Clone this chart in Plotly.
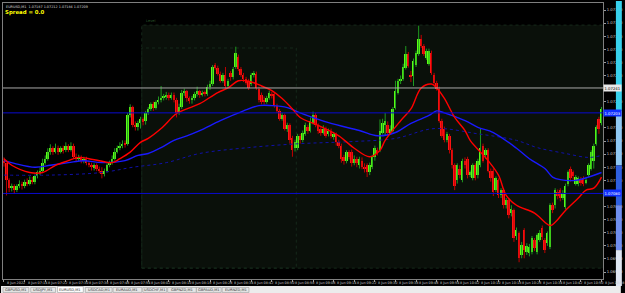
import plotly.graph_objects as go
import pandas as pd

symbol = "EURUSD,M1"
spread_text = "Spread = 0.0"
start_time = "2022-06-08 07:06"

open_ = [1.07130,1.07126,1.07100,1.07088,1.07091,1.07085,1.07091,1.07095,1.07091,1.07098,
 1.07095,1.07101,1.07097,1.07106,1.07112,1.07115,1.07127,1.07133,1.07143,1.07149,
 1.07144,1.07150,1.07144,1.07149,1.07146,1.07152,1.07147,1.07153,1.07136,1.07133,
 1.07135,1.07130,1.07133,1.07127,1.07124,1.07120,1.07123,1.07118,1.07115,1.07109,
 1.07115,1.07123,1.07127,1.07133,1.07144,1.07150,1.07153,1.07156,1.07156,1.07199,
 1.07212,1.07185,1.07181,1.07188,1.07193,1.07190,1.07203,1.07209,1.07216,1.07211,
 1.07219,1.07223,1.07226,1.07228,1.07231,1.07226,1.07231,1.07223,1.07203,1.07212,
 1.07234,1.07237,1.07225,1.07222,1.07226,1.07232,1.07237,1.07231,1.07234,1.07232,
 1.07243,1.07247,1.07276,1.07272,1.07263,1.07252,1.07261,1.07244,1.07264,1.07257,
 1.07273,1.07289,1.07270,1.07261,1.07255,1.07252,1.07247,1.07261,1.07263,1.07240,
 1.07231,1.07223,1.07220,1.07226,1.07232,1.07232,1.07214,1.07206,1.07194,1.07199,
 1.07179,1.07184,1.07165,1.07149,1.07150,1.07167,1.07162,1.07171,1.07182,1.07176,
 1.07188,1.07200,1.07184,1.07178,1.07173,1.07179,1.07170,1.07176,1.07167,1.07170,
 1.07158,1.07153,1.07135,1.07130,1.07143,1.07144,1.07127,1.07133,1.07123,1.07130,
 1.07121,1.07123,1.07112,1.07121,1.07135,1.07146,1.07146,1.07173,1.07185,1.07185,
 1.07173,1.07176,1.07211,1.07234,1.07252,1.07255,1.07272,1.07293,1.07261,1.07260,
 1.07276,1.07293,1.07316,1.07305,1.07287,1.07278,1.07295,1.07261,1.07249,1.07240,
 1.07191,1.07179,1.07161,1.07168,1.07146,1.07123,1.07100,1.07118,1.07100,1.07130,
 1.07133,1.07108,1.07103,1.07123,1.07108,1.07123,1.07153,1.07138,1.07146,1.07115,
 1.07115,1.07085,1.07100,1.07077,1.07085,1.07062,1.07070,1.07050,1.07054,1.07015,
 1.07019,1.06986,1.07024,1.06990,1.06989,1.06990,1.07009,1.06990,1.07009,1.07028,
 1.07009,1.07004,1.06998,1.07062,1.07062,1.07082,1.07085,1.07073,1.07059,1.07094,
 1.07118,1.07112,1.07095,1.07094,1.07100,1.07103,1.07097,1.07108,1.07118,1.07130,
 1.07156,1.07194,1.07187]

high = [1.07135,1.07127,1.07103,1.07095,1.07094,1.07094,1.07100,1.07098,1.07101,1.07103,
 1.07106,1.07105,1.07109,1.07115,1.07120,1.07133,1.07138,1.07149,1.07155,1.07152,
 1.07156,1.07153,1.07152,1.07153,1.07158,1.07155,1.07158,1.07156,1.07141,1.07139,
 1.07138,1.07136,1.07136,1.07130,1.07127,1.07126,1.07126,1.07121,1.07120,1.07118,
 1.07126,1.07130,1.07138,1.07149,1.07153,1.07158,1.07161,1.07161,1.07203,1.07216,
 1.07214,1.07190,1.07191,1.07197,1.07196,1.07206,1.07212,1.07219,1.07220,1.07222,
 1.07228,1.07244,1.07232,1.07235,1.07234,1.07234,1.07234,1.07226,1.07217,1.07238,
 1.07240,1.07238,1.07228,1.07229,1.07235,1.07243,1.07238,1.07237,1.07237,1.07246,
 1.07252,1.07276,1.07279,1.07275,1.07266,1.07264,1.07273,1.07255,1.07267,1.07273,
 1.07304,1.07292,1.07273,1.07264,1.07258,1.07255,1.07264,1.07267,1.07266,1.07243,
 1.07234,1.07228,1.07229,1.07237,1.07235,1.07235,1.07217,1.07209,1.07203,1.07202,
 1.07188,1.07187,1.07168,1.07162,1.07171,1.07171,1.07176,1.07188,1.07185,1.07196,
 1.07205,1.07203,1.07187,1.07181,1.07184,1.07182,1.07179,1.07179,1.07174,1.07173,
 1.07162,1.07156,1.07139,1.07146,1.07146,1.07147,1.07138,1.07136,1.07136,1.07135,
 1.07126,1.07126,1.07127,1.07139,1.07153,1.07150,1.07193,1.07194,1.07203,1.07190,
 1.07184,1.07212,1.07252,1.07255,1.07260,1.07278,1.07305,1.07296,1.07267,1.07286,
 1.07298,1.07336,1.07322,1.07308,1.07301,1.07301,1.07298,1.07264,1.07252,1.07243,
 1.07194,1.07182,1.07174,1.07171,1.07149,1.07126,1.07126,1.07123,1.07133,1.07135,
 1.07136,1.07115,1.07126,1.07126,1.07133,1.07179,1.07156,1.07149,1.07149,1.07118,
 1.07118,1.07106,1.07103,1.07088,1.07088,1.07073,1.07073,1.07062,1.07057,1.07028,
 1.07022,1.07006,1.07027,1.07004,1.07003,1.07015,1.07012,1.07019,1.07024,1.07031,
 1.07012,1.07022,1.07065,1.07066,1.07088,1.07086,1.07088,1.07085,1.07095,1.07115,
 1.07121,1.07115,1.07108,1.07106,1.07105,1.07106,1.07103,1.07126,1.07146,1.07156,
 1.07184,1.07197,1.07212]

low = [1.07121,1.07077,1.07082,1.07083,1.07080,1.07082,1.07088,1.07086,1.07088,1.07091,
 1.07092,1.07094,1.07094,1.07103,1.07108,1.07112,1.07124,1.07130,1.07139,1.07139,
 1.07141,1.07139,1.07141,1.07141,1.07143,1.07143,1.07144,1.07133,1.07129,1.07129,
 1.07126,1.07126,1.07123,1.07120,1.07115,1.07115,1.07114,1.07111,1.07103,1.07106,
 1.07112,1.07120,1.07124,1.07130,1.07141,1.07146,1.07149,1.07150,1.07153,1.07196,
 1.07181,1.07176,1.07176,1.07179,1.07184,1.07185,1.07200,1.07206,1.07206,1.07208,
 1.07216,1.07219,1.07222,1.07223,1.07222,1.07223,1.07219,1.07196,1.07200,1.07209,
 1.07229,1.07220,1.07217,1.07217,1.07222,1.07228,1.07226,1.07228,1.07228,1.07229,
 1.07238,1.07244,1.07269,1.07260,1.07249,1.07249,1.07240,1.07241,1.07252,1.07254,
 1.07270,1.07267,1.07258,1.07250,1.07246,1.07238,1.07244,1.07257,1.07238,1.07219,
 1.07216,1.07216,1.07217,1.07223,1.07225,1.07211,1.07203,1.07191,1.07191,1.07176,
 1.07174,1.07156,1.07136,1.07144,1.07146,1.07156,1.07158,1.07168,1.07171,1.07173,
 1.07185,1.07181,1.07171,1.07168,1.07170,1.07165,1.07167,1.07164,1.07162,1.07153,
 1.07149,1.07127,1.07124,1.07126,1.07132,1.07121,1.07123,1.07120,1.07118,1.07117,
 1.07112,1.07105,1.07108,1.07117,1.07130,1.07138,1.07143,1.07170,1.07168,1.07168,
 1.07170,1.07173,1.07208,1.07231,1.07247,1.07252,1.07269,1.07272,1.07250,1.07244,
 1.07273,1.07290,1.07302,1.07290,1.07284,1.07275,1.07261,1.07246,1.07237,1.07188,
 1.07165,1.07158,1.07158,1.07141,1.07118,1.07085,1.07095,1.07103,1.07097,1.07118,
 1.07103,1.07105,1.07100,1.07100,1.07103,1.07120,1.07127,1.07133,1.07112,1.07098,
 1.07076,1.07082,1.07073,1.07073,1.07057,1.07057,1.07042,1.07045,1.07006,1.07009,
 1.06975,1.06981,1.06981,1.06986,1.06984,1.06987,1.06992,1.06987,1.07006,1.07009,
 1.06989,1.07000,1.06995,1.07050,1.07057,1.07071,1.07068,1.07070,1.07056,1.07091,
 1.07098,1.07101,1.07092,1.07091,1.07092,1.07091,1.07094,1.07105,1.07115,1.07118,
 1.07153,1.07171,1.07184]

close = [1.07126,1.07100,1.07088,1.07092,1.07085,1.07091,1.07095,1.07091,1.07098,1.07095,
 1.07101,1.07097,1.07106,1.07112,1.07115,1.07127,1.07133,1.07143,1.07149,1.07144,
 1.07150,1.07144,1.07149,1.07146,1.07152,1.07147,1.07153,1.07136,1.07133,1.07135,
 1.07130,1.07133,1.07127,1.07124,1.07120,1.07123,1.07118,1.07115,1.07109,1.07115,
 1.07123,1.07127,1.07133,1.07144,1.07150,1.07153,1.07156,1.07155,1.07199,1.07212,
 1.07185,1.07181,1.07188,1.07193,1.07190,1.07203,1.07209,1.07216,1.07211,1.07219,
 1.07223,1.07226,1.07228,1.07231,1.07226,1.07231,1.07223,1.07203,1.07212,1.07234,
 1.07237,1.07225,1.07222,1.07226,1.07232,1.07237,1.07231,1.07234,1.07232,1.07243,
 1.07247,1.07273,1.07272,1.07263,1.07252,1.07261,1.07244,1.07252,1.07257,1.07270,
 1.07295,1.07270,1.07261,1.07255,1.07249,1.07241,1.07261,1.07263,1.07241,1.07222,
 1.07219,1.07220,1.07226,1.07234,1.07228,1.07214,1.07206,1.07194,1.07199,1.07179,
 1.07184,1.07161,1.07146,1.07158,1.07168,1.07161,1.07173,1.07184,1.07176,1.07191,
 1.07200,1.07184,1.07176,1.07173,1.07179,1.07168,1.07176,1.07167,1.07170,1.07158,
 1.07153,1.07133,1.07130,1.07143,1.07136,1.07127,1.07133,1.07126,1.07133,1.07121,
 1.07118,1.07112,1.07123,1.07136,1.07149,1.07143,1.07176,1.07188,1.07190,1.07173,
 1.07179,1.07209,1.07237,1.07252,1.07255,1.07273,1.07293,1.07275,1.07258,1.07282,
 1.07295,1.07316,1.07305,1.07293,1.07298,1.07298,1.07264,1.07249,1.07240,1.07191,
 1.07168,1.07161,1.07171,1.07146,1.07123,1.07092,1.07123,1.07108,1.07130,1.07123,
 1.07108,1.07112,1.07123,1.07103,1.07130,1.07149,1.07130,1.07146,1.07115,1.07103,
 1.07082,1.07103,1.07077,1.07085,1.07062,1.07070,1.07047,1.07057,1.07012,1.07024,
 1.06981,1.07001,1.06993,1.07000,1.06998,1.07012,1.06997,1.07016,1.07019,1.07013,
 1.06993,1.07019,1.07062,1.07054,1.07085,1.07076,1.07073,1.07080,1.07092,1.07112,
 1.07103,1.07106,1.07105,1.07103,1.07097,1.07095,1.07100,1.07123,1.07143,1.07153,
 1.07181,1.07179,1.07209]

# moving averages read at sample bars
red_ma_idx = [0,3,10,15,20,25,29,33,37,42,45,49,53,56,61,67,71,76,83,87,91,94,97,100,104,108,112,
              115,122,130,136,142,146,148,154,158,162,166,168,171,175,179,181,188,192,195,199,206,
              212,214,218,223,226,229,232]
red_ma_val = [1.07133,1.07123,1.07112,1.07112,1.07123,1.07130,1.07135,1.07133,1.07130,1.07127,1.07133,
              1.07143,1.07158,1.07164,1.07179,1.07202,1.07209,1.07217,1.07234,1.07241,1.07252,1.07252,
              1.07249,1.07244,1.07237,1.07225,1.07209,1.07196,1.07184,1.07168,1.07149,1.07136,1.07146,
              1.07161,1.07191,1.07209,1.07241,1.07247,1.07241,1.07225,1.07196,1.07176,1.07161,1.07130,
              1.07108,1.07077,1.07062,1.07050,1.07031,1.07036,1.07054,1.07073,1.07085,1.07088,1.07105]
blue_ma_idx = [0,4,12,18,25,31,38,47,52,56,61,66,71,76,84,93,99,104,110,115,126,138,145,152,158,165,
               168,171,179,184,190,199,204,210,213,216,222,227,232]
blue_ma_val = [1.07130,1.07126,1.07120,1.07123,1.07127,1.07130,1.07127,1.07130,1.07138,1.07141,1.07150,
               1.07161,1.07168,1.07176,1.07191,1.07206,1.07214,1.07214,1.07211,1.07203,1.07188,1.07176,
               1.07168,1.07173,1.07187,1.07199,1.07206,1.07203,1.07191,1.07181,1.07173,1.07149,1.07133,
               1.07118,1.07105,1.07101,1.07100,1.07105,1.07112]
slow_ma_idx = [0,18,38,50,63,76,95,115,134,152,167,184,199,207,218,227,232]
slow_ma_val = [1.07108,1.07108,1.07112,1.07120,1.07127,1.07141,1.07150,1.07156,1.07159,1.07164,1.07179,
               1.07171,1.07161,1.07150,1.07141,1.07135,1.07138]

level_gray = 1.07241
levels_blue = [1.07203, 1.07080]
price_ticks = [1.0736,1.0734,1.0732,1.0730,1.0728,1.0726,1.0722,1.0718,1.0716,1.0714,1.0712,
               1.0710,1.0706,1.0704,1.0702,1.0700,1.0698,1.0696]
rect_outer = dict(t0=53.5, t1=260, p0=1.06966, p1=1.07337)
rect_inner = dict(t0=53.5, t1=113.5, p0=1.06966, p1=1.07302)
rect_label = "Level"
tabs = ["GBPUSD,M1", "USDJPY,M1", "EURUSD,M1", "USDCAD,M1", "EURAUD,M1",
        "USDCHF,M1", "GBPNZD,M1", "GBPAUD,M1", "EURNZD,M1"]
active_tab = "EURUSD,M1"

# ---------------------------------------------------------------
n = len(close)
idx = list(range(n))
times = pd.date_range(start_time, periods=n, freq="min")

W, H = 625, 293
ML, MR, MT, MB = 2, 18, 2, 14
PW, PH = W - ML - MR, H - MT - MB


def fx(px):
    return (px - ML) / PW


def fy(py):
    return (H - MB - py) / PH


UP_BODY, UP_WICK = "#5cff14", "#1f9a1f"
DN_BODY, DN_WICK = "#ff1414", "#c00000"

fig = go.Figure()

for up in (True, False):
    sel = [i for i in idx if (close[i] >= open_[i]) == up]
    wx, wy = [], []
    for i in sel:
        wx += [i, i, None]
        wy += [low[i], high[i], None]
    fig.add_trace(go.Scatter(x=wx, y=wy, mode="lines",
                             line=dict(color=UP_WICK if up else DN_WICK, width=1),
                             hoverinfo="skip"))
    fig.add_trace(go.Bar(x=sel, y=[abs(close[i] - open_[i]) for i in sel],
                         base=[min(open_[i], close[i]) for i in sel], width=0.75,
                         marker=dict(color=UP_BODY if up else DN_BODY, line=dict(width=0))))

fig.add_trace(go.Scatter(x=slow_ma_idx, y=slow_ma_val, mode="lines",
                         line=dict(color="#1010a8", width=1, dash="dot", shape="spline")))
fig.add_trace(go.Scatter(x=blue_ma_idx, y=blue_ma_val, mode="lines",
                         line=dict(color="#1a1aff", width=1.4, shape="spline")))
fig.add_trace(go.Scatter(x=red_ma_idx, y=red_ma_val, mode="lines",
                         line=dict(color="#ff0000", width=1.4, shape="spline")))

shapes = []
for r in (rect_outer, rect_inner):
    shapes.append(dict(type="rect", xref="x", yref="y", x0=r["t0"], x1=r["t1"], y0=r["p0"], y1=r["p1"],
                       fillcolor="#0a100a" if r is rect_outer else "rgba(0,0,0,0)",
                       line=dict(color="#15291a", width=1, dash="dot"), layer="below"))
shapes.append(dict(type="line", xref="paper", yref="y", x0=0, x1=1, y0=level_gray, y1=level_gray,
                   line=dict(color="#a8a8a8", width=1), layer="above"))
for lv in levels_blue:
    shapes.append(dict(type="line", xref="paper", yref="y", x0=0, x1=1, y0=lv, y1=lv,
                       line=dict(color="#0a0ad0", width=1), layer="above"))

# tab bar
shapes.append(dict(type="rect", xref="paper", yref="paper", x0=fx(0), x1=fx(W), y0=fy(H), y1=fy(286),
                   fillcolor="#ececec", line=dict(width=0)))
tab_px = [(2, 28), (30, 55), (57, 83), (85, 112), (113, 142), (143, 167), (168, 197), (197, 222), (223, 250)]
annotations = []
for name, (a, b) in zip(tabs, tab_px):
    act = name == active_tab
    shapes.append(dict(type="rect", xref="paper", yref="paper", x0=fx(a), x1=fx(b),
                       y0=fy(292.5), y1=fy(286.5 if act else 287.5),
                       fillcolor="#ffffff" if act else "#e6e6e6",
                       line=dict(color="#9a9a9a", width=0.6)))
    annotations.append(dict(xref="paper", yref="paper", x=fx((a + b) / 2), y=fy(289.8),
                            text=name, showarrow=False, xanchor="center", yanchor="middle",
                            font=dict(size=3.6, color="#303030", family="DejaVu Sans")))

# right window strip
for y0, y1, col in [(0, 110, "#38d0ec"), (110, 165, "#8fc8f4"), (165, 205, "#2e5fe0"),
                    (205, 250, "#6f8ef0"), (250, 286, "#dfe6f2")]:
    shapes.append(dict(type="rect", xref="paper", yref="paper", x0=fx(620), x1=fx(W + 1),
                       y0=fy(y1), y1=fy(y0), fillcolor=col, line=dict(width=0)))

# time labels
tick_idx = list(range(0, n, 8))
for i in tick_idx:
    t = times[i]
    txt = t.strftime("%-d %b %Y") if i == 0 else t.strftime("%-d %b %H:%M")
    annotations.append(dict(xref="x", yref="paper", x=i + 0.4, y=fy(282.6), text=txt, showarrow=False,
                            xanchor="left", yanchor="middle",
                            font=dict(size=3.4, color="#cfcfcf", family="DejaVu Sans")))

# level boxes on price scale
annotations.append(dict(xref="paper", yref="y", x=1.0, y=level_gray, text=f"{level_gray:.5f}",
                        showarrow=False, xanchor="left", yanchor="middle", bgcolor="#e8e8e8",
                        borderpad=0.5, font=dict(size=3.8, color="#000000", family="DejaVu Sans")))
for lv in levels_blue:
    annotations.append(dict(xref="paper", yref="y", x=1.0, y=lv, text=f"{lv:.5f}",
                            showarrow=False, xanchor="left", yanchor="middle", bgcolor="#1030ff",
                            borderpad=0.5, font=dict(size=3.8, color="#ffffff", family="DejaVu Sans")))

# header
last = n - 1
annotations.append(dict(xref="paper", yref="paper", x=fx(3), y=fy(1.8), xanchor="left", yanchor="top",
                        text=f"{symbol}  {open_[last]:.5f} {high[last]:.5f} {low[last]:.5f} {close[last]:.5f}",
                        showarrow=False, font=dict(size=3.4, color="#d8d8d8", family="DejaVu Sans")))
annotations.append(dict(xref="paper", yref="paper", x=fx(1.5), y=fy(6.0), xanchor="left", yanchor="top",
                        text=f"<b>{spread_text}</b>", showarrow=False,
                        font=dict(size=5.4, color="#ffff00", family="DejaVu Sans")))
annotations.append(dict(xref="x", yref="y", x=rect_outer["t0"] + 1, y=rect_outer["p1"], xanchor="left",
                        yanchor="bottom", text=rect_label, showarrow=False,
                        font=dict(size=3.6, color="#2c5a2c", family="DejaVu Sans")))

fig.update_layout(width=W, height=H, margin=dict(l=ML, r=MR, t=MT, b=MB),
                  paper_bgcolor="#000000", plot_bgcolor="#000000", showlegend=False,
                  barmode="overlay", bargap=0, shapes=shapes, annotations=annotations)
fig.update_xaxes(range=[-0.385, 232.58], showgrid=False, zeroline=False, showline=True, mirror=True,
                 linecolor="#7f7f7f", linewidth=1, tickvals=tick_idx, ticks="outside", ticklen=2,
                 tickcolor="#9a9a9a", showticklabels=False, fixedrange=True)
fig.update_yaxes(range=[1.069494, 1.073707], side="right", showgrid=False, zeroline=False, showline=True,
                 mirror=True, linecolor="#7f7f7f", linewidth=1, tickvals=price_ticks,
                 ticktext=[f"{v:.5f}" for v in price_ticks], ticks="outside", ticklen=2,
                 tickcolor="#9a9a9a", tickfont=dict(size=3.8, color="#cfcfcf", family="DejaVu Sans"),
                 fixedrange=True)

fig.write_html("out.html")
